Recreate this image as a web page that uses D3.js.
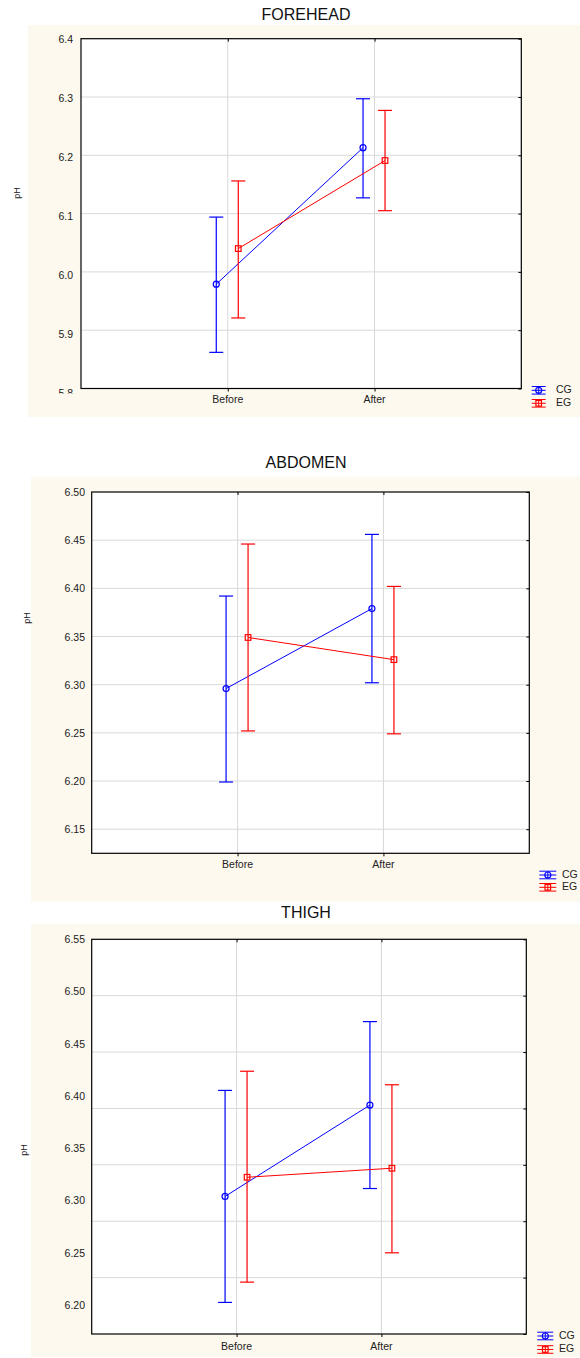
<!DOCTYPE html>
<html>
<head>
<meta charset="utf-8">
<style>
body { margin: 0; background: #fff; }
svg text { font-family: "Liberation Sans", Arial, sans-serif; fill: #222; }
.grid line { stroke: #d9d9d9; stroke-width: 1; }
.frame { fill: none; stroke: #000; stroke-width: 1.2; }
.ylab text { font-size: 10.5px; font-family: "Liberation Sans", Arial, sans-serif; }
.xlab text { font-size: 10.5px; }
</style>
</head>
<body>
<div id="chart"></div>
<script src="https://d3js.org/d3.v7.min.js"></script>
<script>

// categories and series
var groups = ["Before", "After"];
var seriesNames = ["CG", "EG"];
var seriesColors = ["#0000ff", "#ff0000"];

// FOREHEAD
var foreheadTicks = [5.8, 5.9, 6.0, 6.1, 6.2, 6.3, 6.4];
var foreheadCGMean = [5.979, 6.213];
var foreheadCGLow  = [5.862, 6.127];
var foreheadCGHigh = [6.094, 6.297];
var foreheadEGMean = [6.040, 6.191];
var foreheadEGLow  = [5.921, 6.105];
var foreheadEGHigh = [6.156, 6.277];

// ABDOMEN
var abdomenTicks = [6.15, 6.20, 6.25, 6.30, 6.35, 6.40, 6.45, 6.50];
var abdomenCGMean = [6.296, 6.379];
var abdomenCGLow  = [6.199, 6.302];
var abdomenCGHigh = [6.392, 6.456];
var abdomenEGMean = [6.349, 6.326];
var abdomenEGLow  = [6.252, 6.249];
var abdomenEGHigh = [6.446, 6.402];

// THIGH
var thighTicks = [6.20, 6.25, 6.30, 6.35, 6.40, 6.45, 6.50, 6.55];
var thighCGMean = [6.322, 6.403];
var thighCGLow  = [6.228, 6.329];
var thighCGHigh = [6.416, 6.477];
var thighEGMean = [6.339, 6.347];
var thighEGLow  = [6.246, 6.272];
var thighEGHigh = [6.433, 6.421];

var panels = [
  { title: "FOREHEAD", domain: [5.8, 6.4], ticks: foreheadTicks, fmt: ".1f",
    mean: [foreheadCGMean, foreheadEGMean], low: [foreheadCGLow, foreheadEGLow], high: [foreheadCGHigh, foreheadEGHigh],
    titleY: 16, bg: [28, 25, 580, 417], plot: [81, 38.7, 521.3, 388.5],
    labelRange: [393, 38.7], labelX: 73, labelClip: 393.5, phX: 18, phY: 193, xLabY: 400,
    legX: 531.7, legW: 14, legY: [390.3, 403.3], legTextX: 556 },
  { title: "ABDOMEN", domain: [6.125, 6.50], ticks: abdomenTicks, fmt: ".2f",
    mean: [abdomenCGMean, abdomenEGMean], low: [abdomenCGLow, abdomenEGLow], high: [abdomenCGHigh, abdomenEGHigh],
    titleY: 464, bg: [31, 476.7, 580, 901.7], plot: [91.7, 492, 529.3, 853.3],
    labelRange: [829.5, 492], labelX: 85, labelClip: 2000, phX: 28, phY: 618, xLabY: 865,
    legX: 539.3, legW: 17, legY: [875, 887.3], legTextX: 562 },
  { title: "THIGH", domain: [6.20, 6.55], ticks: thighTicks, fmt: ".2f",
    mean: [thighCGMean, thighEGMean], low: [thighCGLow, thighEGLow], high: [thighCGHigh, thighEGHigh],
    titleY: 914, bg: [31, 924, 580, 1357], plot: [91.7, 939.3, 526.3, 1334],
    labelRange: [1305, 939.3], labelX: 85, labelClip: 2000, phX: 25, phY: 1150, xLabY: 1347,
    legX: 537.3, legW: 16, legY: [1336, 1349.5], legTextX: 559 }
];

// series offsets around each category (px)
var offsets = [-11.5, 10.5];

var svg = d3.select("#chart").append("svg")
  .attr("width", 580)
  .attr("height", 1358);

function marker(g, i, cx, cy, color) {
  if (i === 0) {
    g.append("circle").attr("cx", cx).attr("cy", cy).attr("r", 3)
      .attr("fill", "none").attr("stroke", color).attr("stroke-width", 1.2);
  } else {
    g.append("rect").attr("x", cx - 2.8).attr("y", cy - 2.8).attr("width", 5.6).attr("height", 5.6)
      .attr("fill", "none").attr("stroke", color).attr("stroke-width", 1.2);
  }
}

panels.forEach(function(p, pi) {
  var g = svg.append("g");
  var L = p.plot[0], T = p.plot[1], R = p.plot[2], B = p.plot[3];

  g.append("rect")
    .attr("x", p.bg[0]).attr("y", p.bg[1])
    .attr("width", p.bg[2] - p.bg[0]).attr("height", p.bg[3] - p.bg[1])
    .attr("fill", "#fdf9ee");

  g.append("text")
    .attr("x", 306).attr("y", p.titleY)
    .attr("text-anchor", "middle").attr("dominant-baseline", "middle")
    .style("font-size", "16px").style("fill", "#111")
    .text(p.title);

  var x = d3.scalePoint().domain(groups).range([L, R]).padding(1);
  var y = d3.scaleLinear().domain(p.domain).range([B, T]);
  var yLab = d3.scaleLinear().domain([p.ticks[0], p.ticks[p.ticks.length - 1]]).range(p.labelRange);

  g.append("rect").attr("fill", "#fff")
    .attr("x", L).attr("y", T).attr("width", R - L).attr("height", B - T);

  // grid
  var grid = g.append("g").attr("class", "grid");
  grid.selectAll(".gy").data(p.ticks.filter(function(t) { return y(t) > T + 1 && y(t) < B - 1; }))
    .enter().append("line")
    .attr("x1", L).attr("x2", R)
    .attr("y1", function(d) { return y(d); }).attr("y2", function(d) { return y(d); });
  grid.selectAll(".gx").data(groups).enter().append("line")
    .attr("x1", function(d) { return x(d); }).attr("x2", function(d) { return x(d); })
    .attr("y1", T).attr("y2", B);

  // inner ticks on right, top, bottom
  g.append("g").attr("transform", "translate(" + R + ",0)")
    .call(d3.axisLeft(y).tickValues(p.ticks).tickSize(3).tickFormat(""))
    .call(function(a) { a.select(".domain").remove(); });
  g.append("g").attr("transform", "translate(0," + T + ")")
    .call(d3.axisBottom(x).tickSize(3).tickFormat(""))
    .call(function(a) { a.select(".domain").remove(); });
  g.append("g").attr("transform", "translate(0," + B + ")")
    .call(d3.axisBottom(x).tickSize(3).tickFormat(""))
    .call(function(a) { a.select(".domain").remove(); });

  g.append("rect").attr("class", "frame")
    .attr("x", L).attr("y", T).attr("width", R - L).attr("height", B - T);

  // y tick labels
  var clipId = "clip" + pi;
  svg.append("clipPath").attr("id", clipId).append("rect")
    .attr("x", -200).attr("y", 0).attr("width", 800).attr("height", p.labelClip);
  g.append("g").attr("class", "ylab").attr("clip-path", "url(#" + clipId + ")")
    .attr("transform", "translate(" + p.labelX + ",0)")
    .call(d3.axisLeft(yLab).tickValues(p.ticks).tickSize(0).tickPadding(0).tickFormat(d3.format(p.fmt)))
    .call(function(a) { a.select(".domain").remove(); a.selectAll("text").attr("font-size", null).attr("fill", null); });

  // x labels
  g.append("g").attr("class", "xlab").selectAll("text").data(groups).enter().append("text")
    .attr("x", function(d) { return x(d); }).attr("y", p.xLabY)
    .attr("text-anchor", "middle").attr("dominant-baseline", "middle")
    .text(function(d) { return d; });

  g.append("text")
    .attr("transform", "translate(" + p.phX + "," + p.phY + ") rotate(-90)")
    .attr("text-anchor", "middle").attr("dominant-baseline", "middle")
    .style("font-size", "9px")
    .text("pH");

  // series
  seriesNames.forEach(function(s, i) {
    var color = seriesColors[i];
    var sg = g.append("g");
    var pts = groups.map(function(gr, j) {
      return { x: x(gr) + offsets[i], m: p.mean[i][j], lo: p.low[i][j], hi: p.high[i][j] };
    });
    sg.append("path")
      .attr("d", d3.line().x(function(d) { return d.x; }).y(function(d) { return y(d.m); })(pts))
      .attr("fill", "none").attr("stroke", color).attr("stroke-width", 1);
    pts.forEach(function(d) {
      sg.append("line").attr("x1", d.x).attr("x2", d.x).attr("y1", y(d.lo)).attr("y2", y(d.hi))
        .attr("stroke", color).attr("stroke-width", 1.2);
      [d.lo, d.hi].forEach(function(v) {
        sg.append("line").attr("x1", d.x - 7).attr("x2", d.x + 7).attr("y1", y(v)).attr("y2", y(v))
          .attr("stroke", color).attr("stroke-width", 1.2);
      });
      marker(sg, i, d.x, y(d.m), color);
    });

    // legend
    var ly = p.legY[i], lx = p.legX, lw = p.legW;
    var lg = g.append("g");
    [-3.8, 0, 3.8].forEach(function(dy) {
      lg.append("line").attr("x1", lx).attr("x2", lx + lw).attr("y1", ly + dy).attr("y2", ly + dy)
        .attr("stroke", color).attr("stroke-width", 1);
    });
    lg.append("line").attr("x1", lx + lw / 2).attr("x2", lx + lw / 2).attr("y1", ly - 3.8).attr("y2", ly + 3.8)
      .attr("stroke", color).attr("stroke-width", 1);
    marker(lg, i, lx + lw / 2, ly, color);
    lg.append("text").attr("x", p.legTextX).attr("y", ly)
      .attr("dominant-baseline", "middle").style("font-size", "10.5px")
      .text(s);
  });
});
</script>
</body>
</html>
